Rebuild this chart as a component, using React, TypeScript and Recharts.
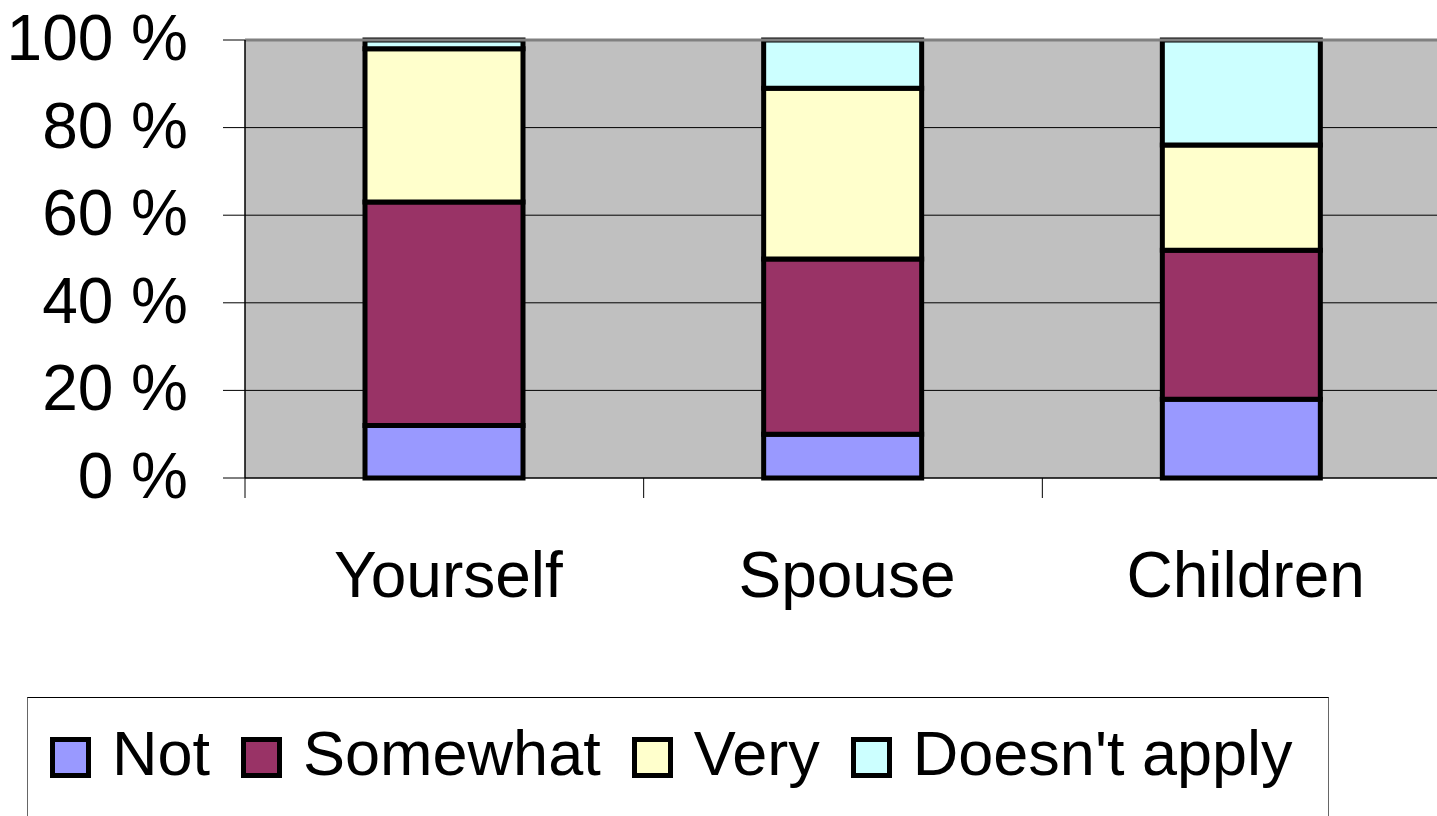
import React from "react"
import { BarChart, Bar, XAxis, YAxis, CartesianGrid, Legend, ReferenceLine } from "recharts"

const categories = ["Yourself", "Spouse", "Children"]
const notValues = [12, 10, 18]
const somewhatValues = [51, 40, 34]
const veryValues = [35, 39, 24]
const doesntApplyValues = [2, 11, 24]
const yTicks = [0, 20, 40, 60, 80, 100]
// category boundaries on the helper axis (Excel puts ticks between columns)
const edgeTicks = [0, 1, 2, 3]

const series = [
  { key: "not", name: "Not", color: "#9999FF" },
  { key: "somewhat", name: "Somewhat", color: "#993366" },
  { key: "very", name: "Very", color: "#FFFFCC" },
  { key: "doesnt", name: "Doesn't apply", color: "#CCFFFF" },
]

const data = categories.map((name, i) => ({
  name,
  slot: i + 0.5,
  not: notValues[i],
  somewhat: somewhatValues[i],
  very: veryValues[i],
  doesnt: doesntApplyValues[i],
}))

const FONT = "'Liberation Sans', Arial, sans-serif"

function YTick({ x, y, payload }: any) {
  return (
    <text x={x} y={y + 20} textAnchor="end" fontSize={64} fontFamily={FONT} fill="#000">
      {`${payload.value} %`}
    </text>
  )
}

function XTick({ x, y, payload }: any) {
  return (
    <text x={x + 4} y={y + 99} textAnchor="middle" fontSize={64} fontFamily={FONT} fill="#000">
      {payload.value}
    </text>
  )
}

// legend keeps the series order (Recharts would sort it by name)
function LegendBox() {
  return (
    <div
      style={{
        width: 1302,
        height: 140,
        boxSizing: "border-box",
        border: "1px solid #000",
        borderRightColor: "#666",
        borderLeftColor: "#666",
        padding: "23px 0 0 22px",
        display: "flex",
        alignItems: "flex-start",
        fontFamily: FONT,
        fontSize: 63,
        lineHeight: "64px",
        background: "#fff",
      }}
    >
      {series.map((s) => (
        <div key={s.key} style={{ display: "flex", alignItems: "flex-start", marginRight: 31 }}>
          <div
            style={{
              width: 41,
              height: 41,
              marginTop: 16,
              marginRight: 21,
              boxSizing: "border-box",
              border: "5px solid #000",
              background: s.color,
            }}
          />
          <span style={{ whiteSpace: "nowrap" }}>{s.name}</span>
        </div>
      ))}
    </div>
  )
}

export default function App() {
  return (
    <div
      style={{
        position: "absolute",
        left: 0,
        top: 0,
        width: 1437,
        height: 816,
        overflow: "hidden",
        background: "#fff",
      }}
    >
      <BarChart
        width={1441}
        height={816}
        data={data}
        margin={{ top: 40, right: 0, left: 0, bottom: 218 }}
        barCategoryGap={0}
      >
        <CartesianGrid xAxisId="b_cat" vertical={false} stroke="#000" fill="#C0C0C0" fillOpacity={1} />
        <XAxis
          xAxisId="a_edges"
          type="number"
          dataKey="slot"
          domain={[0, 3]}
          allowDataOverflow
          ticks={edgeTicks}
          interval={0}
          height={20}
          tickSize={20}
          tick={() => <g />}
          axisLine={{ stroke: "#000" }}
          tickLine={{ stroke: "#000" }}
        />
        <XAxis
          xAxisId="b_cat"
          dataKey="name"
          height={100}
          axisLine={false}
          tickLine={false}
          tickSize={0}
          tickMargin={0}
          tick={<XTick />}
          interval={0}
        />
        <YAxis
          width={245}
          domain={[0, 100]}
          ticks={yTicks}
          tickSize={22}
          tickMargin={35}
          tick={<YTick />}
          axisLine={{ stroke: "#000", strokeWidth: 1.5 }}
          tickLine={{ stroke: "#000" }}
          interval={0}
        />
        <ReferenceLine xAxisId="b_cat" y={100} stroke="#808080" strokeWidth={3} />
        {series.map((s) => (
          <Bar
            key={s.key}
            xAxisId="b_cat"
            dataKey={s.key}
            name={s.name}
            stackId="a"
            fill={s.color}
            stroke="#000"
            strokeWidth={5}
            barSize={158}
            isAnimationActive={false}
          />
        ))}
        <Legend
          layout="vertical"
          align="center"
          verticalAlign="middle"
          content={<LegendBox />}
          wrapperStyle={{ left: 27, top: 697, width: 1302, height: 140 }}
        />
      </BarChart>
    </div>
  )
}
